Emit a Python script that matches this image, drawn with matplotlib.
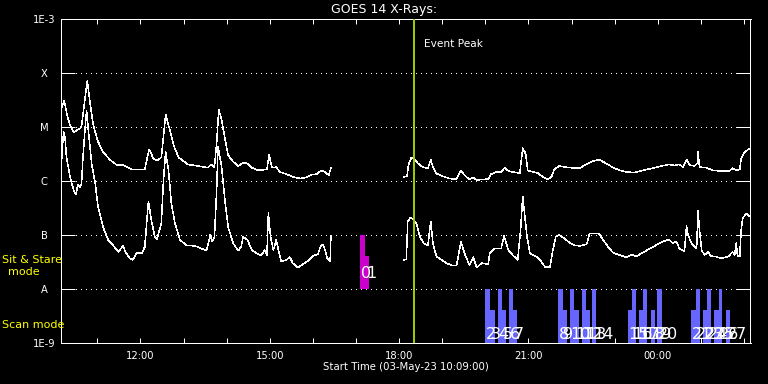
import datetime as dt
import numpy as np
import matplotlib
matplotlib.use("Agg")
import matplotlib.pyplot as plt
import matplotlib.dates as mdates
from matplotlib import font_manager
from matplotlib.ticker import NullLocator

# ---------------- data ----------------
START = dt.datetime(2023, 5, 3, 10, 9)
SPAN_MIN = 960
EVENT_PEAK = dt.datetime(2023, 5, 3, 18, 20)

# GOES 1-8 A channel (minutes after start, log10 flux W/m^2)
long_a_t = [0, 5, 9, 13, 18, 22, 27, 29, 33, 37, 41, 45, 51, 59, 69, 78, 87, 99, 117, 123,
            129, 134, 140, 143, 146, 152, 157, 164, 177, 191, 205, 209, 214, 217, 220, 224, 229, 233, 240, 247,
            254, 260, 266, 275, 287, 290, 294, 300, 305, 314, 323, 333, 342, 349, 356, 363, 368, 373, 376]
long_a_log = [-4.69, -4.51, -4.78, -4.96, -5.09, -5.06, -5.02, -4.99, -4.56, -4.14, -4.56, -4.93, -5.24, -5.46, -5.61, -5.70, -5.70, -5.78, -5.78, -5.41,
              -5.58, -5.62, -5.56, -5.18, -4.76, -5.06, -5.33, -5.56, -5.69, -5.72, -5.75, -5.69, -5.74, -5.30, -4.67, -4.87, -5.24, -5.52, -5.64, -5.72,
              -5.66, -5.67, -5.75, -5.80, -5.78, -5.51, -5.75, -5.74, -5.83, -5.87, -5.92, -5.95, -5.93, -5.88, -5.87, -5.80, -5.83, -5.89, -5.76]
long_b_t = [478, 482, 484, 488, 493, 497, 504, 511, 515, 518, 523, 532, 541, 550, 557, 562, 569, 574, 579, 586,
            595, 599, 606, 613, 618, 623, 629, 639, 641, 643, 647, 650, 657, 664, 671, 678, 683, 687, 694, 708,
            722, 734, 741, 749, 759, 769, 778, 787, 799, 810, 824, 836, 847, 854, 861, 866, 871, 875, 882, 886,
            887, 889, 898, 908, 917, 931, 935, 940, 945, 947, 952, 958]
long_b_log = [-5.92, -5.91, -5.70, -5.56, -5.60, -5.67, -5.74, -5.76, -5.60, -5.74, -5.86, -5.91, -5.95, -5.97, -5.80, -5.89, -5.97, -5.93, -5.98, -5.97,
              -5.96, -5.87, -5.83, -5.83, -5.75, -5.81, -5.83, -5.85, -5.61, -5.39, -5.49, -5.80, -5.83, -5.85, -5.92, -5.97, -5.92, -5.78, -5.72, -5.75,
              -5.76, -5.67, -5.63, -5.60, -5.67, -5.75, -5.80, -5.83, -5.84, -5.80, -5.76, -5.72, -5.69, -5.71, -5.69, -5.74, -5.60, -5.70, -5.72, -5.67,
              -5.46, -5.74, -5.75, -5.80, -5.81, -5.81, -5.76, -5.80, -5.78, -5.58, -5.46, -5.40]

# GOES 0.5-4 A channel
short_a_t = [0, 2, 4, 6, 8, 13, 18, 21, 24, 27, 29, 31, 33, 36, 38, 43, 48, 52, 59, 66,
             73, 80, 87, 90, 96, 100, 106, 113, 117, 122, 127, 131, 134, 140, 143, 146, 150, 154, 159, 166,
             175, 187, 196, 203, 208, 211, 214, 217, 219, 224, 229, 233, 240, 247, 251, 254, 260, 266, 273, 279,
             284, 287, 289, 292, 296, 300, 304, 307, 314, 319, 323, 330, 337, 344, 351, 358, 362, 365, 368, 371,
             375, 376]
short_a_log = [-6.02, -5.43, -5.09, -5.18, -5.55, -5.92, -6.17, -6.24, -6.07, -6.11, -6.04, -5.55, -5.18, -4.69, -4.99, -5.67, -6.04, -6.48, -6.85, -7.09,
               -7.19, -7.31, -7.20, -7.31, -7.43, -7.46, -7.33, -7.33, -7.22, -6.38, -6.78, -7.03, -7.08, -6.78, -5.98, -5.46, -5.80, -6.41, -6.78, -7.09,
               -7.19, -7.20, -7.25, -7.29, -7.00, -7.12, -7.03, -6.17, -5.36, -5.74, -6.41, -6.85, -7.15, -7.29, -7.22, -7.03, -7.09, -7.28, -7.34, -7.38,
               -7.28, -7.37, -6.59, -7.03, -7.28, -7.09, -7.34, -7.49, -7.46, -7.41, -7.52, -7.60, -7.54, -7.48, -7.39, -7.35, -7.20, -7.17, -7.28, -7.43,
               -7.48, -7.02]
short_b_t = [478, 481, 483, 487, 491, 495, 500, 505, 511, 515, 518, 523, 530, 537, 544, 551, 557, 562, 569, 574,
             579, 586, 595, 597, 604, 613, 617, 623, 629, 636, 640, 643, 646, 649, 653, 657, 662, 667, 674, 681,
             684, 689, 694, 701, 708, 715, 722, 732, 736, 749, 755, 762, 769, 778, 787, 796, 801, 808, 820, 831,
             840, 846, 852, 857, 861, 868, 871, 873, 878, 885, 887, 889, 892, 896, 901, 905, 912, 919, 929, 935,
             938, 940, 942, 945, 947, 949, 954, 958]
short_b_log = [-7.46, -7.45, -6.75, -6.67, -6.72, -6.78, -7.03, -7.15, -7.19, -6.75, -7.15, -7.40, -7.46, -7.52, -7.56, -7.56, -7.12, -7.34, -7.56, -7.41,
               -7.60, -7.52, -7.54, -7.34, -7.25, -7.25, -7.01, -7.28, -7.37, -7.46, -6.91, -6.28, -6.66, -7.03, -7.34, -7.37, -7.40, -7.46, -7.59, -7.59,
               -7.34, -7.03, -7.00, -7.06, -7.14, -7.19, -7.20, -7.17, -6.97, -6.97, -7.09, -7.22, -7.33, -7.37, -7.41, -7.36, -7.40, -7.34, -7.25, -7.17,
               -7.11, -7.08, -7.15, -7.12, -7.25, -7.30, -6.83, -7.00, -7.15, -7.25, -6.54, -6.91, -7.28, -7.37, -7.31, -7.39, -7.40, -7.43, -7.40, -7.31,
               -7.37, -7.15, -7.39, -7.40, -6.91, -6.69, -6.60, -6.65]

# observation scans (minutes after start)
scan_ids = list(range(28))
scan_start = [417, 424, 591, 598, 608, 614, 623.5, 629.5, 692.5, 698.5, 708.5, 714.5, 725, 731, 739.5,
              789, 795, 804.5, 810.5, 821, 830.5, 877.5, 883.5, 893.5, 899.5, 909.5, 915.5, 925.5]
scan_dur = [7, 4.5, 6.5, 6, 6, 6, 6, 6, 6, 6, 6, 6.5, 6, 6, 6,
            6, 6, 6, 6, 6.5, 6.5, 6, 6, 6, 6, 6, 5.5, 6.5]
scan_tall = [1, 0, 1, 0, 1, 0, 1, 0, 1, 0, 1, 0, 1, 0, 1,
             0, 1, 0, 1, 0, 1, 0, 1, 0, 1, 0, 1, 0]
scan_mode = ["stare", "stare"] + ["scan"] * 26

y_ticks = [1e-9, 1e-8, 1e-7, 1e-6, 1e-5, 1e-4, 1e-3]
y_labels = ["1E-9", "A", "B", "C", "M", "X", "1E-3"]

# ---------------- style ----------------
W, H = 768, 384
DPI = 100
PX = 72.0 / DPI  # points per pixel
WHITE = "white"
YELLOW = "#ffff00"
MAGENTA = "#cc00cc"
BLUE = "#6666ff"
GREEN = "#99cc00"

avail = {f.name for f in font_manager.fontManager.ttflist}
narrow = "Liberation Sans Narrow" if "Liberation Sans Narrow" in avail else "DejaVu Sans"

plt.rcParams["font.family"] = ["DejaVu Sans"]


def tt(mins):
    return [START + dt.timedelta(minutes=float(m)) for m in mins]


fig = plt.figure(figsize=(W / DPI, H / DPI), dpi=DPI, facecolor="black")
ax = fig.add_axes([60.7 / W, (H - 343) / H, 689.8 / W, 323.7 / H], facecolor="black")
ax.set_yscale("log")
ax.set_ylim(1e-9, 1e-3)
x0 = START
x1 = START + dt.timedelta(minutes=SPAN_MIN)
ax.set_xlim(x0, x1)

# grid (dotted)
for yv in y_ticks[1:-1]:
    ax.axhline(yv, color=WHITE, lw=PX, ls=(0, (1, 5)), antialiased=False, zorder=1)

# scan bars
for i, s, d, tall, mode in zip(scan_ids, scan_start, scan_dur, scan_tall, scan_mode):
    if mode == "stare":
        lo, hi, col = 1e-8, 1e-7, MAGENTA
    else:
        lo, hi, col = 1e-9, 1e-8, BLUE
    top = hi if tall else 10 ** (np.log10(lo) + 0.61)
    t0 = START + dt.timedelta(minutes=s)
    width = dt.timedelta(minutes=d)
    ax.bar(t0, top - lo, width=width, bottom=lo, align="edge", color=col,
           edgecolor="none", zorder=2)
for i, s, mode in zip(scan_ids, scan_start, scan_mode):
    lab_y = 1.62e-8 if mode == "stare" else 1.19e-9
    ax.text(START + dt.timedelta(minutes=s + 1), lab_y, str(i), color=WHITE,
            fontsize=11.5, family=narrow, ha="left", va="baseline", zorder=5)

# light curves
for tlist, llist in [(long_a_t, long_a_log), (long_b_t, long_b_log),
                     (short_a_t, short_a_log), (short_b_t, short_b_log)]:
    ax.plot(tt(tlist), 10 ** np.array(llist), color=WHITE, lw=0.36,
            antialiased=False, zorder=3)

# event peak
ax.axvline(EVENT_PEAK, color=GREEN, lw=2 * PX, antialiased=False, zorder=4)
ax.text(EVENT_PEAK + dt.timedelta(minutes=14.3), 3.1e-4, "Event Peak", color=WHITE,
        fontsize=7.6, ha="left", va="baseline")

# axes styling
for sp in ax.spines.values():
    sp.set_color(WHITE)
    sp.set_linewidth(PX)
    sp.set_antialiased(False)

ax.set_yticks(y_ticks)
ax.set_yticklabels(y_labels)
ax.yaxis.set_minor_locator(NullLocator())
ax.tick_params(axis="y", which="major", direction="in", length=14 * PX, width=PX,
               color=WHITE, labelcolor=WHITE, labelsize=7.2, pad=16.7 * PX,
               left=True, right=True)
for lab in ax.get_yticklabels():
    lab.set_horizontalalignment("center")

ax.xaxis.set_major_locator(mdates.HourLocator(byhour=range(0, 24, 3)))
ax.xaxis.set_minor_locator(mdates.HourLocator())
ax.xaxis.set_major_formatter(mdates.DateFormatter("%H:%M"))
ax.tick_params(axis="x", which="both", direction="in", length=5 * PX, width=PX,
               color=WHITE, labelcolor=WHITE, labelsize=7.2, pad=8 * PX,
               top=True, bottom=True)

fig.text(384.5 / W, (H - 13.5) / H, "GOES 14 X-Rays:", color=WHITE, fontsize=9.0,
         ha="center", va="baseline")
fig.text(405.5 / W, (H - 370) / H, "Start Time (03-May-23 10:09:00)", color=WHITE,
         fontsize=7.3, ha="center", va="baseline")

fig.text(2 / W, (H - 263.3) / H, "Sit & Stare", color=YELLOW, fontsize=8.0,
         ha="left", va="baseline")
fig.text(24.3 / W, (H - 275) / H, "mode", color=YELLOW, fontsize=8.0,
         ha="center", va="baseline")
fig.text(2 / W, (H - 328.3) / H, "Scan mode", color=YELLOW, fontsize=8.0,
         ha="left", va="baseline")

fig.savefig("out.png", dpi=DPI, facecolor="black")
